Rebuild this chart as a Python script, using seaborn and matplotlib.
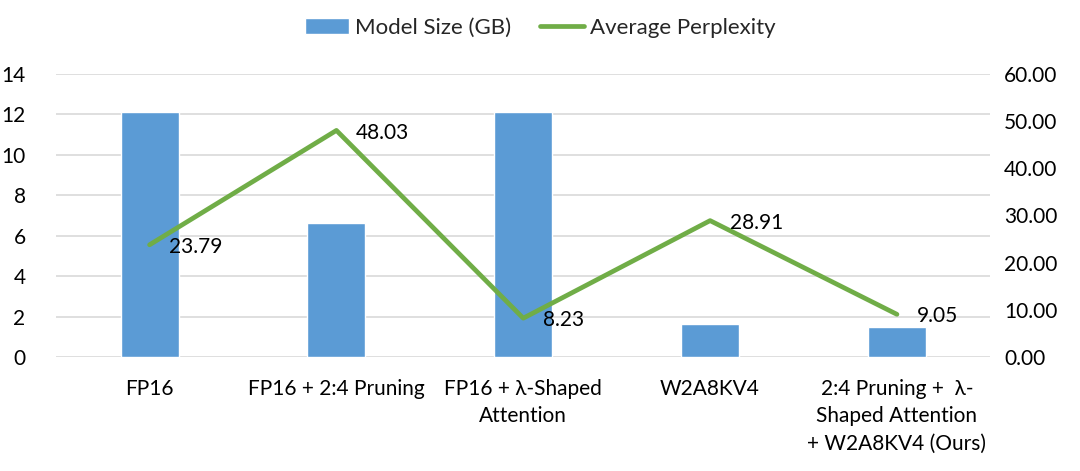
import numpy as np
import pandas as pd
import matplotlib
matplotlib.use("Agg")
import matplotlib.pyplot as plt
import seaborn as sns

categories = ["FP16", "FP16 + 2:4 Pruning", "FP16 + \u03bb-Shaped\nAttention", "W2A8KV4",
              "2:4 Pruning +  \u03bb-\nShaped Attention\n+ W2A8KV4 (Ours)"]
model_size = [12.1, 6.65, 12.1, 1.65, 1.5]
perplexity = [23.79, 48.03, 8.23, 28.91, 9.05]
left_ticks = [0, 2, 4, 6, 8, 10, 12, 14]
right_ticks = [0, 10, 20, 30, 40, 50, 60]

blue = "#5B9BD5"
green = "#70AD47"

sns.set_style("white")
plt.rcParams['font.family'] = ['Lato', 'DejaVu Sans']

df = pd.DataFrame({"cat": categories, "size": model_size, "ppl": perplexity})

fig, ax = plt.subplots(figsize=(10.8, 4.71), dpi=100)
fig.subplots_adjust(left=0.052, right=0.917, top=0.843, bottom=0.242)

sns.barplot(data=df, x="cat", y="size", ax=ax, color=blue, saturation=1, width=0.31,
            label="Model Size (GB)")
ax.set_ylim(0, 14)
ax.set_yticks(left_ticks)
ax.set_yticklabels([str(t) for t in left_ticks])
ax.yaxis.grid(True, color="#D9D9D9", linewidth=1.2)
ax.set_axisbelow(True)
ax.set_xlabel("")
ax.set_ylabel("")

ax2 = ax.twinx()
sns.pointplot(data=df, x="cat", y="ppl", ax=ax2, color=green, markers="", linewidth=3.4,
              errorbar=None, label="Average Perplexity")
ax2.set_ylim(0, 60)
ax2.set_yticks(right_ticks)
ax2.set_yticklabels([f"{t:.2f}" for t in right_ticks])
ax2.set_ylabel("")
ax2.set_xlabel("")
ax.set_xlim(-0.5, len(categories) - 0.5)
ax2.set_xlim(-0.5, len(categories) - 0.5)

# data labels to the right of each point, like excel's "right" position
for i, v in enumerate(perplexity):
    ax2.annotate(f"{v:.2f}", (i, v), xytext=(14, -1.5), textcoords="offset points",
                 ha="left", va="center", fontsize=15, color="black")

ax.set_xticks(range(len(categories)))
ax.set_xticklabels(categories, fontsize=15, linespacing=1.45, va="top")
for a in (ax, ax2):
    a.tick_params(axis="both", length=0, labelsize=15, colors="black")
    for s in a.spines.values():
        s.set_visible(False)
ax.tick_params(axis="x", pad=16)
ax.tick_params(axis="y", pad=22)
ax2.tick_params(axis="y", pad=10)

h1, l1 = ax.get_legend_handles_labels()
h2, l2 = ax2.get_legend_handles_labels()
if ax2.get_legend() is not None:
    ax2.get_legend().remove()
if ax.get_legend() is not None:
    ax.get_legend().remove()
fig.legend(h1 + h2, l1 + l2, loc="upper center", bbox_to_anchor=(0.5, 1.005),
           ncol=2, frameon=False, fontsize=16, columnspacing=1.3,
           handlelength=2.0, handletextpad=0.25)

plt.savefig("out.png", dpi=100)
